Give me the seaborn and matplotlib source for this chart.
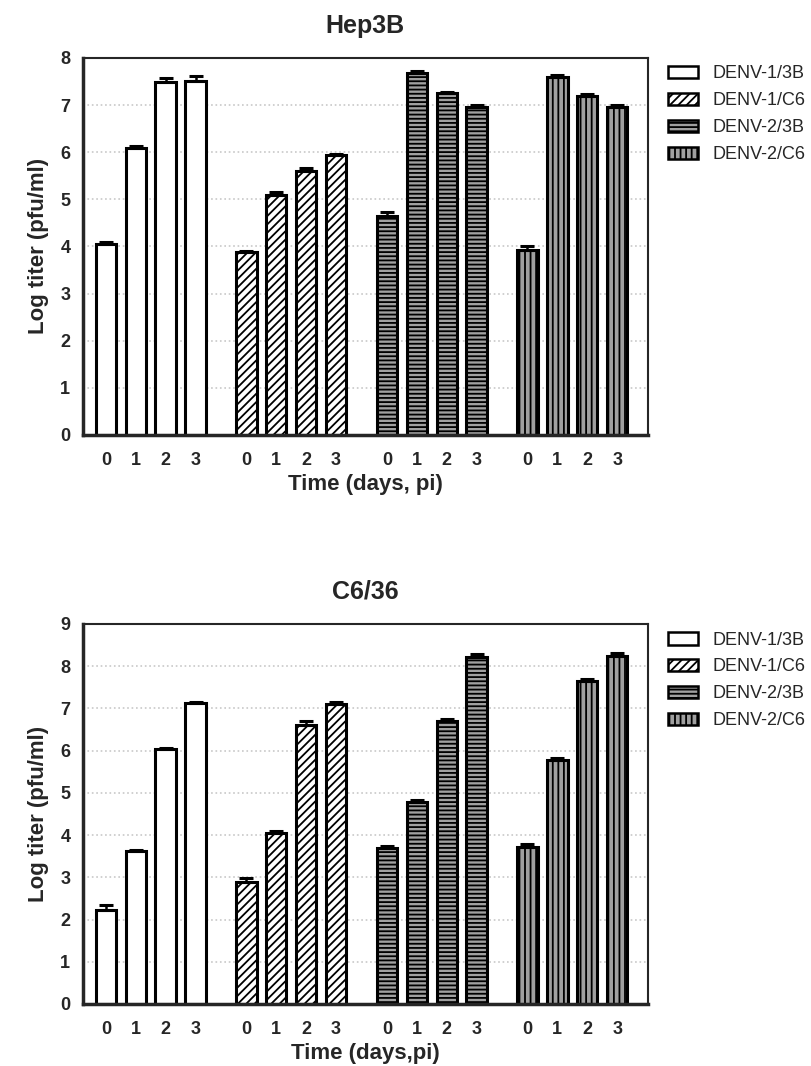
import numpy as np
import pandas as pd
import matplotlib
matplotlib.use("Agg")
import matplotlib.pyplot as plt
from matplotlib.patches import Patch
import seaborn as sns

# data
series = ["DENV-1/3B", "DENV-1/C6", "DENV-2/3B", "DENV-2/C6"]
days = [0, 1, 2, 3]

hep3b_titer = [
    [4.05, 6.08, 7.48, 7.50],
    [3.88, 5.10, 5.60, 5.93],
    [4.65, 7.68, 7.25, 6.95],
    [3.92, 7.60, 7.20, 6.95],
]
hep3b_err = [
    [0.04, 0.04, 0.10, 0.12],
    [0.03, 0.05, 0.06, 0.04],
    [0.07, 0.04, 0.03, 0.04],
    [0.09, 0.04, 0.03, 0.04],
]
c636_titer = [
    [2.22, 3.62, 6.03, 7.12],
    [2.90, 4.05, 6.60, 7.10],
    [3.70, 4.78, 6.70, 8.22],
    [3.72, 5.78, 7.65, 8.25],
]
c636_err = [
    [0.12, 0.03, 0.03, 0.04],
    [0.08, 0.04, 0.10, 0.04],
    [0.04, 0.06, 0.06, 0.06],
    [0.08, 0.04, 0.04, 0.07],
]

# bar styles per series
styles = {
    "DENV-1/3B": dict(facecolor="white", hatch=""),
    "DENV-1/C6": dict(facecolor="white", hatch="////"),
    "DENV-2/3B": dict(facecolor="#a0a0a0", hatch="----"),
    "DENV-2/C6": dict(facecolor="#a0a0a0", hatch="|||"),
}

GROUP_STEP = 4.7


def make_df(titer, err):
    rows = []
    for i, s in enumerate(series):
        for j, d in enumerate(days):
            rows.append({"series": s, "day": d, "pos": i * GROUP_STEP + j,
                         "titer": titer[i][j], "err": err[i][j]})
    return pd.DataFrame(rows)


def draw_panel(ax, df, title, ymax, xlabel):
    ax.grid(axis="y", color="#c8c8c8", linestyle=":", linewidth=1.2)
    ax.set_axisbelow(True)
    sns.barplot(data=df, x="pos", y="titer", native_scale=True, width=0.68,
                color="white", edgecolor="black", linewidth=2.2,
                errorbar=None, ax=ax)
    # apply hatch per bar based on its position
    pos_to_series = dict(zip(df["pos"], df["series"]))
    for p in ax.patches:
        c = p.get_x() + p.get_width() / 2
        key = min(pos_to_series, key=lambda k: abs(k - c))
        st = styles[pos_to_series[key]]
        p.set_facecolor(st["facecolor"])
        p.set_hatch(st["hatch"])
    ax.errorbar(df["pos"], df["titer"],
                yerr=[np.zeros(len(df)), df["err"]],
                fmt="none", ecolor="black", elinewidth=1.8, capsize=5, capthick=2.2)
    ax.set_xlim(-0.77, 3 * GROUP_STEP + 3 + 1.03)
    ax.set_ylim(0, ymax)
    ax.set_yticks(range(0, ymax + 1))
    ax.set_xticks(df["pos"])
    ax.set_xticklabels(df["day"].astype(str))
    for lab in ax.get_xticklabels() + ax.get_yticklabels():
        lab.set_fontweight("bold")
    ax.tick_params(axis="x", length=0, labelsize=13, pad=12)
    ax.tick_params(axis="y", length=7, width=2, labelsize=13, pad=2)
    for side in ["left", "bottom"]:
        ax.spines[side].set_linewidth(2.5)
    for side in ["top", "right"]:
        ax.spines[side].set_linewidth(1.5)
    ax.set_ylabel("Log titer (pfu/ml)", fontsize=16, fontweight="bold", labelpad=8)
    ax.set_xlabel(xlabel, fontsize=16, fontweight="bold", labelpad=4)
    ax.set_title(title, fontsize=18, fontweight="bold", pad=18)
    handles = [Patch(facecolor=styles[s]["facecolor"], hatch=styles[s]["hatch"],
                     edgecolor="black", linewidth=1.8, label=s) for s in series]
    ax.legend(handles=handles, loc="upper left", bbox_to_anchor=(1.035, 0.98),
              frameon=False, fontsize=13, handlelength=1.7, handleheight=0.7,
              labelspacing=0.55, handletextpad=0.8, borderaxespad=0, borderpad=0)


sns.set_style("white")
plt.rcParams["font.family"] = ["Liberation Sans", "DejaVu Sans"]
plt.rcParams["hatch.linewidth"] = 1.3

fig = plt.figure(figsize=(8.12, 10.66), dpi=100)
ax1 = fig.add_axes([0.102, 0.592, 0.696, 0.3537])
ax2 = fig.add_axes([0.102, 0.0582, 0.696, 0.3565])

draw_panel(ax1, make_df(hep3b_titer, hep3b_err), "Hep3B", 8, "Time (days, pi)")
draw_panel(ax2, make_df(c636_titer, c636_err), "C6/36", 9, "Time (days,pi)")

fig.savefig("out.png", dpi=100)
